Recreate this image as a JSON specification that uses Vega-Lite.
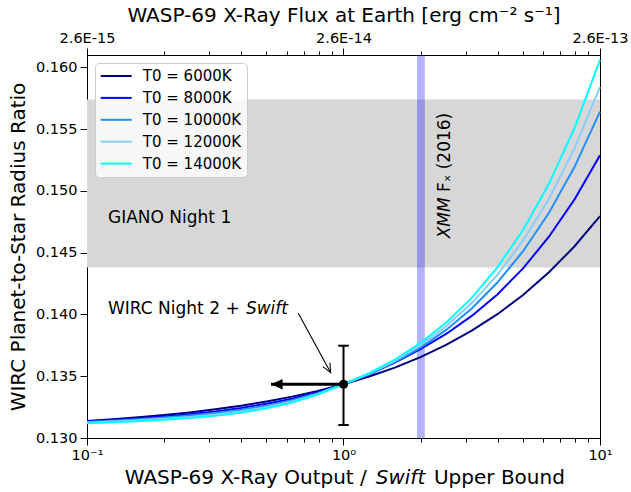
{
  "$schema": "https://vega.github.io/schema/vega-lite/v6.json",
  "width": 513,
  "height": 383,
  "autosize": {"type": "none"},
  "padding": {"left": 87, "top": 55, "right": 31, "bottom": 54},
  "background": "white",
  "config": {
    "font": "DejaVu Sans",
    "view": {"stroke": "black", "strokeWidth": 1},
    "axis": {
      "grid": false, "domainColor": "black", "domainWidth": 1, "tickColor": "black", "tickWidth": 1,
      "labelColor": "black", "titleColor": "black", "labelFont": "DejaVu Sans", "titleFont": "DejaVu Sans",
      "titleFontWeight": "normal", "labelFontSize": 14.5, "titleFontSize": 20
    },
    "legend": {
      "orient": "top-left", "offset": 8, "fillColor": "rgba(255,255,255,0.8)", "strokeColor": "#cccccc",
      "cornerRadius": 4, "padding": 5, "labelFont": "DejaVu Sans", "labelFontSize": 15, "labelColor": "black",
      "symbolType": "M-1.106,0L3.591,0", "symbolStrokeWidth": 2, "symbolSize": 174, "labelOffset": 26.8, "rowPadding": 5.9
    }
  },
  "data": {"name": "measurement"},
  "datasets": {
    "curves": [
      {"x": 0.1, "T0 = 6000K": 0.13137, "T0 = 8000K": 0.13134, "T0 = 10000K": 0.1313, "T0 = 12000K": 0.13126, "T0 = 14000K": 0.1312},
      {"x": 0.1259, "T0 = 6000K": 0.13151, "T0 = 8000K": 0.13145, "T0 = 10000K": 0.1314, "T0 = 12000K": 0.13134, "T0 = 14000K": 0.13127},
      {"x": 0.1585, "T0 = 6000K": 0.13167, "T0 = 8000K": 0.13158, "T0 = 10000K": 0.13152, "T0 = 12000K": 0.13144, "T0 = 14000K": 0.13136},
      {"x": 0.1995, "T0 = 6000K": 0.13186, "T0 = 8000K": 0.13174, "T0 = 10000K": 0.13166, "T0 = 12000K": 0.13156, "T0 = 14000K": 0.13147},
      {"x": 0.2512, "T0 = 6000K": 0.13207, "T0 = 8000K": 0.13193, "T0 = 10000K": 0.13183, "T0 = 12000K": 0.13171, "T0 = 14000K": 0.13161},
      {"x": 0.3162, "T0 = 6000K": 0.13232, "T0 = 8000K": 0.13215, "T0 = 10000K": 0.13203, "T0 = 12000K": 0.1319, "T0 = 14000K": 0.1318},
      {"x": 0.3981, "T0 = 6000K": 0.13261, "T0 = 8000K": 0.13243, "T0 = 10000K": 0.13229, "T0 = 12000K": 0.13215, "T0 = 14000K": 0.13205},
      {"x": 0.5012, "T0 = 6000K": 0.13296, "T0 = 8000K": 0.13277, "T0 = 10000K": 0.13262, "T0 = 12000K": 0.1325, "T0 = 14000K": 0.1324},
      {"x": 0.631, "T0 = 6000K": 0.13335, "T0 = 8000K": 0.13318, "T0 = 10000K": 0.13306, "T0 = 12000K": 0.13296, "T0 = 14000K": 0.13288},
      {"x": 0.7943, "T0 = 6000K": 0.13381, "T0 = 8000K": 0.1337, "T0 = 10000K": 0.13363, "T0 = 12000K": 0.13357, "T0 = 14000K": 0.13352},
      {"x": 1, "T0 = 6000K": 0.13435, "T0 = 8000K": 0.13435, "T0 = 10000K": 0.13435, "T0 = 12000K": 0.13435, "T0 = 14000K": 0.13435},
      {"x": 1.259, "T0 = 6000K": 0.13498, "T0 = 8000K": 0.13515, "T0 = 10000K": 0.13516, "T0 = 12000K": 0.13521, "T0 = 14000K": 0.13525},
      {"x": 1.585, "T0 = 6000K": 0.1357, "T0 = 8000K": 0.1361, "T0 = 10000K": 0.13614, "T0 = 12000K": 0.13625, "T0 = 14000K": 0.13634},
      {"x": 1.995, "T0 = 6000K": 0.13655, "T0 = 8000K": 0.1372, "T0 = 10000K": 0.13732, "T0 = 12000K": 0.13751, "T0 = 14000K": 0.13769},
      {"x": 2.512, "T0 = 6000K": 0.13754, "T0 = 8000K": 0.13842, "T0 = 10000K": 0.13875, "T0 = 12000K": 0.13905, "T0 = 14000K": 0.13933},
      {"x": 3.162, "T0 = 6000K": 0.13869, "T0 = 8000K": 0.13988, "T0 = 10000K": 0.14048, "T0 = 12000K": 0.14092, "T0 = 14000K": 0.14134},
      {"x": 3.981, "T0 = 6000K": 0.14002, "T0 = 8000K": 0.14162, "T0 = 10000K": 0.14258, "T0 = 12000K": 0.1432, "T0 = 14000K": 0.14381},
      {"x": 5.012, "T0 = 6000K": 0.14158, "T0 = 8000K": 0.14373, "T0 = 10000K": 0.14512, "T0 = 12000K": 0.14597, "T0 = 14000K": 0.14683},
      {"x": 6.31, "T0 = 6000K": 0.14339, "T0 = 8000K": 0.14627, "T0 = 10000K": 0.14819, "T0 = 12000K": 0.14933, "T0 = 14000K": 0.15053},
      {"x": 7.943, "T0 = 6000K": 0.1455, "T0 = 8000K": 0.14929, "T0 = 10000K": 0.15191, "T0 = 12000K": 0.15342, "T0 = 14000K": 0.15505},
      {"x": 10, "T0 = 6000K": 0.14796, "T0 = 8000K": 0.15289, "T0 = 10000K": 0.15642, "T0 = 12000K": 0.1584, "T0 = 14000K": 0.1606}
    ],
    "measurement": [
      {"x": 1, "r": 0.13435, "lo": 0.13105, "hi": 0.13747, "xlimit": 0.5217}
    ]
  },
  "layer": [
    {
      "mark": {"type": "rect", "color": "#d7d7d7"},
      "encoding": {
        "x": {"datum": 0.1, "type": "quantitative",
          "scale": {"type": "log", "domain": [0.1, 10], "nice": false},
          "axis": {
            "orient": "top", "title": "WASP-69 X-Ray Flux at Earth [erg cm⁻² s⁻¹]",
            "values": [0.1, 1, 10],
            "labelExpr": "datum.value == 0.1 ? '2.6E-15' : datum.value == 1 ? '2.6E-14' : '2.6E-13'",
            "tickSize": 7, "labelFlush": false, "labelOverlap": false, "labelBound": false, "labelPadding": 3, "titlePadding": 5
          }
        },
        "x2": {"datum": 10},
        "y": {"datum": 0.1438, "type": "quantitative",
          "scale": {"domain": [0.13, 0.161], "nice": false, "zero": false},
          "axis": {
            "orient": "left", "title": "WIRC Planet-to-Star Radius Ratio",
            "values": [0.13, 0.135, 0.14, 0.145, 0.15, 0.155, 0.16],
            "format": ".3f", "tickSize": 7, "labelPadding": 3, "titlePadding": 7
          }
        },
        "y2": {"datum": 0.1574}
      }
    },
    {
      "mark": {"type": "rule", "opacity": 0},
      "encoding": {
        "x": {"datum": 1, "type": "quantitative",
          "axis": {"orient": "top", "title": null, "values": [0.2, 0.3, 0.4, 0.5, 0.6, 0.7, 0.8, 0.9, 2, 3, 4, 5, 6, 7, 8, 9],
            "labels": false, "domain": false, "tickSize": 4}
        },
        "y": {"datum": 0.13, "type": "quantitative", "axis": null}
      }
    },
    {
      "mark": {"type": "rule", "opacity": 0},
      "encoding": {
        "x": {"datum": 1, "type": "quantitative",
          "axis": {"orient": "bottom", "title": null, "values": [0.2, 0.3, 0.4, 0.5, 0.6, 0.7, 0.8, 0.9, 2, 3, 4, 5, 6, 7, 8, 9],
            "labels": false, "domain": false, "tickSize": 4}
        },
        "y": {"datum": 0.13, "type": "quantitative", "axis": null}
      }
    },
    {
      "mark": {"type": "rect", "color": "blue", "opacity": 0.3},
      "encoding": {
        "x": {"datum": 1.935, "type": "quantitative", "axis": null},
        "x2": {"datum": 2.075},
        "y": {"datum": 0.13, "type": "quantitative", "axis": null},
        "y2": {"datum": 0.161}
      }
    },
    {
      "data": {"name": "curves"},
      "transform": [
        {"fold": ["T0 = 6000K", "T0 = 8000K", "T0 = 10000K", "T0 = 12000K", "T0 = 14000K"], "as": ["series", "r"]}
      ],
      "mark": {"type": "line", "strokeWidth": 2},
      "encoding": {
        "x": {"field": "x", "type": "quantitative",
          "scale": {"type": "log", "domain": [0.1, 10], "nice": false},
          "axis": {
            "orient": "bottom", "title": null,
            "values": [0.1, 1, 10],
            "labelExpr": "datum.value == 0.1 ? '10⁻¹' : datum.value == 1 ? '10⁰' : '10¹'",
            "tickSize": 7, "labelFlush": false, "labelOverlap": false, "labelBound": false, "labelPadding": 3
          }
        },
        "y": {"field": "r", "type": "quantitative", "axis": null},
        "color": {"field": "series", "type": "nominal", "title": null,
          "scale": {
            "domain": ["T0 = 6000K", "T0 = 8000K", "T0 = 10000K", "T0 = 12000K", "T0 = 14000K"],
            "range": ["#000080", "#0000ff", "#1e90ff", "#87cefa", "#00ffff"]
          }
        }
      }
    },
    {
      "mark": {"type": "rule", "color": "black", "strokeWidth": 2},
      "encoding": {
        "x": {"field": "x", "type": "quantitative", "axis": null},
        "y": {"field": "lo", "type": "quantitative", "axis": null},
        "y2": {"field": "hi"}
      }
    },
    {
      "mark": {"type": "point", "shape": "stroke", "filled": false, "stroke": "black", "strokeWidth": 2, "size": 110, "opacity": 1},
      "encoding": {
        "x": {"field": "x", "type": "quantitative", "axis": null},
        "y": {"field": "lo", "type": "quantitative", "axis": null}
      }
    },
    {
      "mark": {"type": "point", "shape": "stroke", "filled": false, "stroke": "black", "strokeWidth": 2, "size": 110, "opacity": 1},
      "encoding": {
        "x": {"field": "x", "type": "quantitative", "axis": null},
        "y": {"field": "hi", "type": "quantitative", "axis": null}
      }
    },
    {
      "mark": {"type": "rule", "color": "black", "strokeWidth": 3},
      "encoding": {
        "x": {"field": "xlimit", "type": "quantitative", "axis": null},
        "x2": {"field": "x"},
        "y": {"field": "r", "type": "quantitative", "axis": null}
      }
    },
    {
      "mark": {"type": "point", "shape": "M0,0L2,-0.9L2,0.9Z", "filled": true, "color": "black", "size": 135, "opacity": 1},
      "encoding": {
        "x": {"field": "xlimit", "type": "quantitative", "axis": null},
        "y": {"field": "r", "type": "quantitative", "axis": null}
      }
    },
    {
      "mark": {"type": "point", "shape": "circle", "filled": true, "color": "black", "size": 85, "opacity": 1},
      "encoding": {
        "x": {"field": "x", "type": "quantitative", "axis": null},
        "y": {"field": "r", "type": "quantitative", "axis": null}
      }
    },
    {
      "mark": {"type": "rule", "color": "black", "strokeWidth": 1.1},
      "encoding": {
        "x": {"datum": 0.6665, "type": "quantitative", "axis": null},
        "y": {"datum": 0.14009, "type": "quantitative", "axis": null},
        "x2": {"datum": 0.8914},
        "y2": {"datum": 0.13529}
      }
    },
    {
      "mark": {"type": "point", "shape": "M-0.45,-1L0,0L0.45,-1", "filled": false, "stroke": "black", "strokeWidth": 1.1, "size": 324, "angle": 331.4, "opacity": 1},
      "encoding": {
        "x": {"datum": 0.8914, "type": "quantitative", "axis": null},
        "y": {"datum": 0.13529, "type": "quantitative", "axis": null}
      }
    },
    {
      "mark": {"type": "text", "align": "left", "baseline": "middle", "fontSize": 17, "font": "DejaVu Sans", "color": "black"},
      "encoding": {
        "x": {"datum": 0.1208, "type": "quantitative", "axis": null},
        "y": {"datum": 0.1478, "type": "quantitative", "axis": null},
        "text": {"value": "GIANO Night 1"}
      }
    },
    {
      "mark": {"type": "text", "align": "left", "baseline": "middle", "fontSize": 17, "font": "DejaVu Sans", "color": "black"},
      "encoding": {
        "x": {"datum": 0.1208, "type": "quantitative", "axis": null},
        "y": {"datum": 0.14044, "type": "quantitative", "axis": null},
        "text": {"value": "WIRC Night 2 +"}
      }
    },
    {
      "mark": {"type": "text", "align": "left", "baseline": "middle", "fontSize": 17, "font": "DejaVu Sans", "fontStyle": "italic", "color": "black"},
      "encoding": {
        "x": {"datum": 0.4163, "type": "quantitative", "axis": null},
        "y": {"datum": 0.14044, "type": "quantitative", "axis": null},
        "text": {"value": "Swift"}
      }
    },
    {
      "mark": {"type": "text", "align": "left", "baseline": "middle", "angle": 270, "fontSize": 17, "font": "DejaVu Sans", "fontStyle": "italic", "color": "black"},
      "encoding": {
        "x": {"datum": 2.488, "type": "quantitative", "axis": null},
        "y": {"datum": 0.14616, "type": "quantitative", "axis": null},
        "text": {"value": "XMM"}
      }
    },
    {
      "mark": {"type": "text", "align": "left", "baseline": "middle", "angle": 270, "fontSize": 17, "font": "DejaVu Sans", "color": "black"},
      "encoding": {
        "x": {"datum": 2.488, "type": "quantitative", "axis": null},
        "y": {"datum": 0.14991, "type": "quantitative", "axis": null},
        "text": {"value": "Fₓ (2016)"}
      }
    },
    {
      "mark": {"type": "text", "align": "right", "baseline": "middle", "fontSize": 20, "font": "DejaVu Sans", "color": "black"},
      "encoding": {
        "x": {"datum": 1.2327, "type": "quantitative", "axis": null},
        "y": {"datum": 0.12676, "type": "quantitative", "axis": null},
        "text": {"value": "WASP-69 X-Ray Output /"}
      }
    },
    {
      "mark": {"type": "text", "align": "center", "baseline": "middle", "fontSize": 20, "font": "DejaVu Sans", "fontStyle": "italic", "color": "black"},
      "encoding": {
        "x": {"datum": 1.668, "type": "quantitative", "axis": null},
        "y": {"datum": 0.12676, "type": "quantitative", "axis": null},
        "text": {"value": "Swift"}
      }
    },
    {
      "mark": {"type": "text", "align": "left", "baseline": "middle", "fontSize": 20, "font": "DejaVu Sans", "color": "black"},
      "encoding": {
        "x": {"datum": 2.253, "type": "quantitative", "axis": null},
        "y": {"datum": 0.12676, "type": "quantitative", "axis": null},
        "text": {"value": "Upper Bound"}
      }
    }
  ],
  "resolve": {"axis": {"x": "independent", "y": "independent"}}
}
